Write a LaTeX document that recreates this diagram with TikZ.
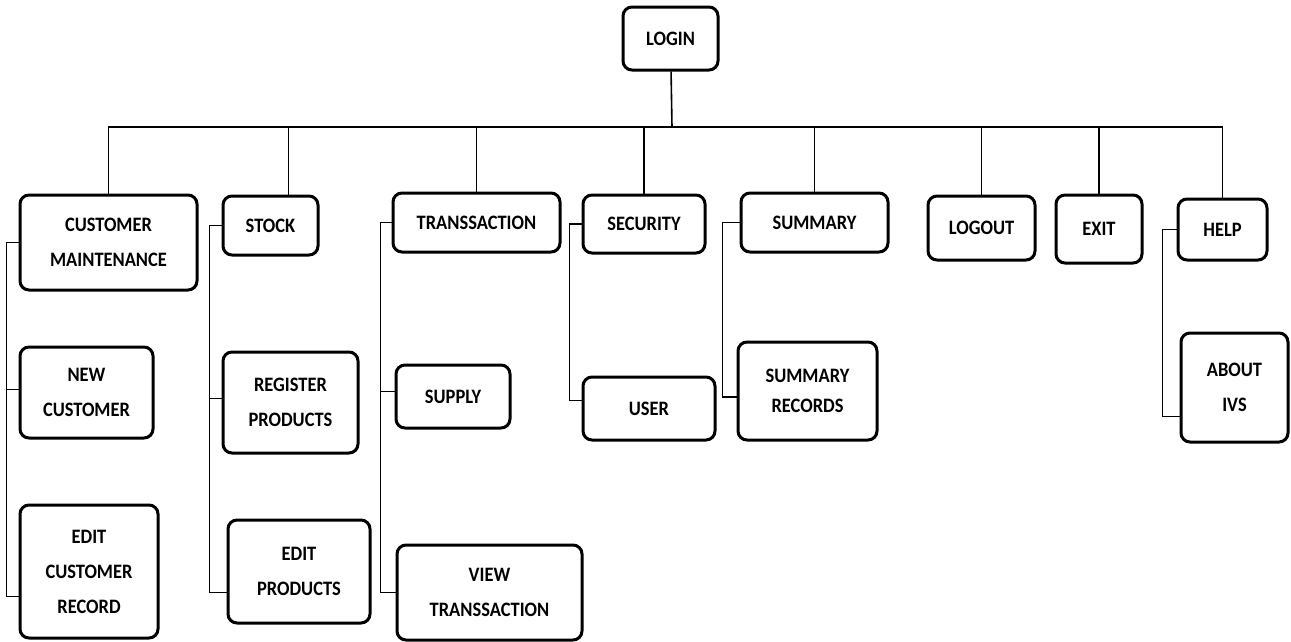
\documentclass[tikz,border=0pt]{standalone}
\usepackage{fontspec}
\setmainfont{Carlito}[FakeStretch=0.9]
\usepackage{tikz}

\begin{document}
\begin{tikzpicture}
[x=1pt,y=-1pt,
 menu/.style={draw,line width=3pt,rounded corners=9pt,inner sep=0pt,align=center,
   font=\fontsize{20.5}{35}\selectfont\bfseries},
 link/.style={line width=1.6pt}]
\useasboundingbox (0,0) rectangle (1291,641);

\node[menu,minimum width=95,minimum height=63] (login) at (670.5,38.5) {LOGIN};

\node[menu,minimum width=177,minimum height=95] (cm) at (108.5,242.5) {CUSTOMER\\MAINTENANCE};
\node[menu,minimum width=95,minimum height=59] (stock) at (270.5,225.5) {STOCK};
\node[menu,minimum width=167,minimum height=59] (trans) at (476.5,222.5) {TRANSSACTION};
\node[menu,minimum width=122,minimum height=58] (security) at (644,224) {SECURITY};
\node[menu,minimum width=147,minimum height=59] (summary) at (814.5,222.5) {SUMMARY};
\node[menu,minimum width=107,minimum height=64] (logout) at (981.5,228) {LOGOUT};
\node[menu,minimum width=86,minimum height=68] (exit) at (1099,229) {EXIT};
\node[menu,minimum width=89,minimum height=61] (help) at (1222.5,229.5) {HELP};

\node[menu,minimum width=133,minimum height=91] (newc) at (86.5,392.5) {NEW\\CUSTOMER};
\node[menu,minimum width=138,minimum height=133] (editcr) at (89,571.5) {EDIT\\CUSTOMER\\RECORD};

\node[menu,minimum width=135,minimum height=101] (regp) at (290.5,402.5) {REGISTER\\PRODUCTS};
\node[menu,minimum width=142,minimum height=103] (editp) at (299,571.5) {EDIT\\PRODUCTS};

\node[menu,minimum width=114,minimum height=63] (supply) at (453,396.5) {SUPPLY};
\node[menu,minimum width=185,minimum height=95] (viewt) at (489.5,592.5) {VIEW\\TRANSSACTION};

\node[menu,minimum width=132,minimum height=63] (user) at (649,408.5) {USER};
\node[menu,minimum width=139,minimum height=98,font=\fontsize{20.5}{30}\selectfont\bfseries] (sumrec) at (807.5,391) {SUMMARY\\RECORDS};

\node[menu,minimum width=107,minimum height=109] (about) at (1234.5,387.5) {ABOUT\\IVS};

% top bus
\coordinate (bus) at (672,127);
\draw[link] (login) -- (bus);
\draw[link] (cm.north) |- (bus) -| (help.north);
\foreach \n in {trans,security,summary,logout,exit}
\draw[link] (\n.north) -- (\n.north |- bus);
\draw[link] ([xshift=18pt]stock.north) -- ([xshift=18pt]stock.north |- bus);

% side branches
\foreach \p/\c/\dx/\dy in {cm/newc/-12/3,cm/editcr/-12/-25,stock/regp/-12/4,stock/editp/-12/-21,
  trans/supply/-11/5,trans/viewt/-11/0,security/user/-12/8,summary/sumrec/-17/-6,help/about/-14/-29}
\draw[link] (\p.west) -- ++(\dx,0) |- ([yshift=\dy pt]\c.west);
\end{tikzpicture}
\end{document}
